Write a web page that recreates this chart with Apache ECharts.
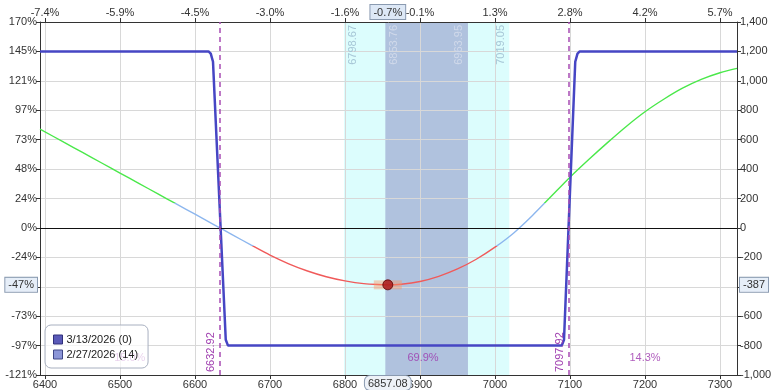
<!DOCTYPE html>
<html><head><meta charset="utf-8">
<script src="https://cdn.jsdelivr.net/npm/echarts@6/dist/echarts.min.js"></script>
<style>html,body{margin:0;padding:0;background:#fff}#c{width:780px;height:390px}</style>
</head><body><div id="c"></div>
<script>
// ---- data ----
const xTickValues = [6400, 6500, 6600, 6700, 6800, 6900, 7000, 7100, 7200, 7300];
const topPctLabels = ['-7.4%', '-5.9%', '-4.5%', '-3.0%', '-1.6%', '-0.1%', '1.3%', '2.8%', '4.2%', '5.7%'];
const yTickValues = [-1000, -800, -600, -400, -200, 0, 200, 400, 600, 800, 1000, 1200, 1400];
const leftPctLabels = ['-121%', '-97%', '-73%', '-48%', '-24%', '0%', '24%', '48%', '73%', '97%', '121%', '145%', '170%'];
const rightLabels = ['-1,000', '-800', '-600', '-400', '-200', '0', '200', '400', '600', '800', '1,000', '1,200', '1,400'];

const currentPrice = 6857.08;
const currentPriceLabel = '6857.08';
const currentPctLabel = '-0.7%';
const currentPL = -387;
const currentPLLabel = '-387';
const currentPLPctLabel = '-47%';

const seriesNames = ['3/13/2026 (0)', '2/27/2026 (14)'];

// expiration P/L
const expX = [6393.33, 6618, 6621, 6624, 6641, 6644, 7089, 7092, 7107, 7110, 7113, 7322.67];
const expY = [1200, 1200, 1185, 1130, -760, -800, -800, -760, 1130, 1185, 1200, 1200];

// T+14 P/L
const t14X = [6393.33, 6425, 6450, 6475, 6500, 6525, 6550, 6575, 6600, 6625, 6650, 6675, 6700, 6725, 6750, 6775, 6800, 6825, 6850, 6857.08, 6875, 6900, 6925, 6950, 6975, 7000, 7025, 7050, 7075, 7100, 7125, 7150, 7175, 7200, 7225, 7250, 7275, 7300, 7322.67];
const t14Y = [672, 583, 513, 443, 373, 303, 233, 163, 93, 23, -47, -117, -185, -244, -293, -332, -360, -379, -386, -387, -383, -364, -329, -279, -213, -131, -34, 85, 215, 345, 465, 580, 690, 790, 875, 950, 1010, 1055, 1085];

const outerBand = [6798.67, 7019.05];
const innerBand = [6853.76, 6963.95];
const outerBandLabels = ['6798.67', '7019.05'];
const innerBandLabels = ['6853.76', '6963.95'];
const breakevens = [6632.92, 7097.92];
const breakevenLabels = ['6632.92', '7097.92'];

const zoneText = ['15.0%', '69.9%', '14.3%'];
const zoneX = [6513, 6904, 7200];
const zoneY = [-885, -885, -885];

// ---- chart ----
const FONT = 'Liberation Sans, Arial, sans-serif';
const pair = (xs, ys) => xs.map((x, i) => [x, ys[i]]);
const lookup = (vals, labels) => v => { const i = vals.indexOf(Math.round(v)); return i >= 0 ? labels[i] : ''; };

const chart = echarts.init(document.getElementById('c'), null, { renderer: 'canvas' });

const ptrLabel = (txt, bg, radius) => ({
  show: true, formatter: () => txt, backgroundColor: bg, borderColor: '#8a9ab0', borderWidth: 1,
  borderRadius: radius, color: '#333', fontSize: 11, fontFamily: FONT, padding: [2, 3, 1, 3], margin: 3, shadowBlur: 0
});

const baseX = {
  type: 'value', min: 6393.33, max: 7322.67, minInterval: 100, maxInterval: 100, z: 2,
  splitLine: { show: true, lineStyle: { color: '#d8d8d8', width: 1 } },
  axisLine: { show: true, onZero: false, lineStyle: { color: '#333', width: 1 } },
  axisTick: { show: true, length: 4, lineStyle: { color: '#333' } },
  axisLabel: { fontSize: 11, color: '#333', fontFamily: FONT, margin: 4, showMinLabel: false, showMaxLabel: false }
};
const baseY = {
  type: 'value', min: -1000, max: 1400, interval: 200, z: 2,
  splitLine: { show: true, lineStyle: { color: '#d8d8d8', width: 1 } },
  axisLine: { show: true, onZero: false, lineStyle: { color: '#333', width: 1 } },
  axisTick: { show: true, length: 4, lineStyle: { color: '#333' } },
  axisLabel: { fontSize: 11, color: '#333', fontFamily: FONT, margin: 3 }
};

const bandLabel = (txt, pos, color) => ({ formatter: txt, position: pos, color: color, fontSize: 11, fontFamily: FONT, distance: 3 });
const noLine = { color: 'rgba(0,0,0,0)', width: 0 };

const option = {
  animation: false,
  backgroundColor: '#fff',
  grid: { left: 40, right: 43, top: 22, bottom: 15, containLabel: false },
  axisPointer: { triggerOn: 'none' },
  xAxis: [
    Object.assign({}, baseX, {
      position: 'bottom',
      axisLabel: Object.assign({}, baseX.axisLabel, { formatter: v => String(v) }),
      axisPointer: { show: true, value: currentPrice, status: 'show', triggerTooltip: false, lineStyle: { opacity: 0 }, label: ptrLabel(currentPriceLabel, '#eef2f8', 5) }
    }),
    Object.assign({}, baseX, {
      position: 'top', splitLine: { show: false },
      axisLabel: Object.assign({}, baseX.axisLabel, { formatter: lookup(xTickValues, topPctLabels) }),
      axisPointer: { show: true, value: currentPrice, status: 'show', triggerTooltip: false, lineStyle: { opacity: 0 }, label: ptrLabel(currentPctLabel, '#dde8f6', 0) }
    })
  ],
  yAxis: [
    Object.assign({}, baseY, {
      position: 'left',
      axisLabel: Object.assign({}, baseY.axisLabel, { formatter: lookup(yTickValues, leftPctLabels) }),
      axisPointer: { show: true, value: currentPL, status: 'show', triggerTooltip: false, lineStyle: { opacity: 0 }, label: ptrLabel(currentPLPctLabel, '#e6eef8', 0) }
    }),
    Object.assign({}, baseY, {
      position: 'right', splitLine: { show: false },
      axisLabel: Object.assign({}, baseY.axisLabel, { formatter: lookup(yTickValues, rightLabels) }),
      axisPointer: { show: true, value: currentPL, status: 'show', triggerTooltip: false, lineStyle: { opacity: 0 }, label: ptrLabel(currentPLLabel, '#e6eef8', 0) }
    })
  ],
  legend: {
    orient: 'vertical', left: 45, bottom: 22, itemWidth: 9, itemHeight: 9, itemGap: 4,
    padding: [9, 10, 8, 8], backgroundColor: 'rgba(255,255,255,0.72)', borderColor: '#a8b0c0', borderWidth: 1, borderRadius: 6,
    textStyle: { fontSize: 11, color: '#222', fontFamily: FONT, padding: [0, 0, 0, -1] },
    data: [
      { name: seriesNames[0], icon: 'rect', itemStyle: { color: '#5a5ab8', borderColor: '#30307a', borderWidth: 1 } },
      { name: seriesNames[1], icon: 'rect', itemStyle: { color: '#8c96d8', borderColor: '#404888', borderWidth: 1 } }
    ]
  },
  visualMap: {
    show: false, type: 'piecewise', seriesIndex: 2, dimension: 1,
    pieces: [
      { lt: -120, color: '#f05a5a' },
      { gte: -120, lte: 170, color: '#8cb6ee' },
      { gt: 170, color: '#4ae84a' }
    ]
  },
  series: [
    { // shaded bands & reference lines
      type: 'line', name: 'bands', data: [], z: 1, silent: true, xAxisIndex: 0, yAxisIndex: 0,
      markArea: {
        silent: true, z: 1,
        data: [
          [{ xAxis: outerBand[0], itemStyle: { color: '#dcfdfd' } }, { xAxis: outerBand[1] }],
          [{ xAxis: innerBand[0], itemStyle: { color: '#b0c2de' } }, { xAxis: innerBand[1] }]
        ]
      },
      markLine: {
        silent: true, symbol: 'none', animation: false,
        data: [
          { xAxis: outerBand[0], lineStyle: noLine, label: bandLabel(outerBandLabels[0], 'insideEndBottom', '#a6c6d6') },
          { xAxis: outerBand[1], lineStyle: noLine, label: bandLabel(outerBandLabels[1], 'insideEndTop', '#a6c6d6') },
          { xAxis: innerBand[0], lineStyle: noLine, label: bandLabel(innerBandLabels[0], 'insideEndBottom', '#d0d9ea') },
          { xAxis: innerBand[1], lineStyle: noLine, label: bandLabel(innerBandLabels[1], 'insideEndTop', '#d0d9ea') },
          { yAxis: 0, lineStyle: { color: '#111', width: 1, type: 'solid' }, label: { show: false } },
          { xAxis: breakevens[0], lineStyle: { color: '#a84cb4', width: 1.5, type: [5, 4] }, label: bandLabel(breakevenLabels[0], 'insideStartTop', '#a040b0') },
          { xAxis: breakevens[1], lineStyle: { color: '#a84cb4', width: 1.5, type: [5, 4] }, label: bandLabel(breakevenLabels[1], 'insideStartTop', '#a040b0') }
        ]
      }
    },
    {
      type: 'line', name: seriesNames[0], data: pair(expX, expY), showSymbol: false, z: 4,
      lineStyle: { color: '#4646c4', width: 2.5 }, itemStyle: { color: '#5a5ab8' }
    },
    {
      type: 'line', name: seriesNames[1], data: pair(t14X, t14Y), showSymbol: false, smooth: 0.3, z: 3,
      lineStyle: { width: 1.4 }, itemStyle: { color: '#8c96d8' }
    },
    {
      type: 'scatter', name: 'zones', data: pair(zoneX, zoneY), symbolSize: 0, z: 3, silent: true,
      label: { show: true, position: 'inside', formatter: p => zoneText[p.dataIndex], color: '#9c34ac', fontSize: 11, fontFamily: FONT }
    },
    {
      type: 'scatter', name: 'curHighlight', data: [[currentPrice, currentPL]], symbol: 'rect', symbolSize: [28, 9], z: 5, silent: true,
      itemStyle: { color: 'rgba(250,150,100,0.55)' }
    },
    {
      type: 'scatter', name: 'curDot', data: [[currentPrice, currentPL]], symbol: 'circle', symbolSize: 10, z: 6, silent: true,
      itemStyle: { color: '#a80f0f', borderColor: '#5a0000', borderWidth: 1 }
    }
  ]
};
chart.setOption(option);
</script>
</body></html>
